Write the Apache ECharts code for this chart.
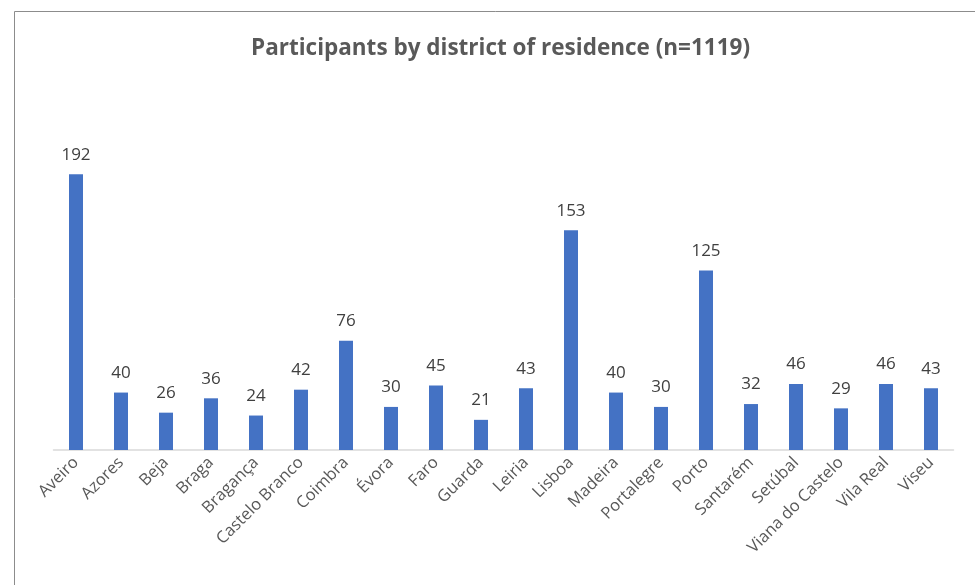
<!DOCTYPE html>
<html>
<head>
<meta charset="utf-8">
<script src="https://cdn.jsdelivr.net/npm/echarts@6/dist/echarts.min.js"></script>
<style>
  html, body, #main { margin: 0; padding: 0; width: 975px; height: 585px; overflow: hidden; background: #fff; }
</style>
</head>
<body>
<div id="main"></div>
<script>
// districts and counts
const districts = ["Aveiro", "Azores", "Beja", "Braga", "Bragança", "Castelo Branco", "Coimbra", "Évora",
  "Faro", "Guarda", "Leiria", "Lisboa", "Madeira", "Portalegre", "Porto", "Santarém", "Setúbal",
  "Viana do Castelo", "Vila Real", "Viseu"];
const participants = [192, 40, 26, 36, 24, 42, 76, 30, 45, 21, 43, 153, 40, 30, 125, 32, 46, 29, 46, 43];

let myChart = echarts.init(document.getElementById("main"), null, { renderer: "canvas" });
myChart.setOption({
  animation: false,
  title: {
    text: "Participants by district of residence (n=1119)",
    left: 246,
    top: 32,
    textStyle: { fontFamily: "Open Sans", fontSize: 22.5, fontWeight: "bold", color: "#595959" }
  },
  // chart frame
  graphic: [{
    type: "rect",
    shape: { x: 14.5, y: 11.5, width: 1000, height: 1000 },
    style: { fill: "none", stroke: "#8c8c8c", lineWidth: 1 },
    silent: true
  }],
  grid: { left: 53.5, right: 21.5, top: 91, bottom: 135 },
  xAxis: {
    type: "category",
    data: districts,
    axisTick: { show: false },
    axisLine: { lineStyle: { color: "#d9d9d9", width: 1.5 } },
    axisLabel: {
      rotate: 45,
      interval: 0,
      margin: 10,
      fontFamily: "Open Sans",
      fontSize: 16.5,
      color: "#595959"
    }
  },
  yAxis: {
    type: "value",
    min: 0,
    max: 250,
    show: false
  },
  series: [{
    type: "bar",
    data: participants,
    barWidth: 14,
    itemStyle: { color: "#4472C4" },
    label: {
      show: true,
      position: "top",
      distance: 11,
      fontFamily: "Open Sans",
      fontSize: 17,
      color: "#404040"
    }
  }]
});
</script>
</body>
</html>
